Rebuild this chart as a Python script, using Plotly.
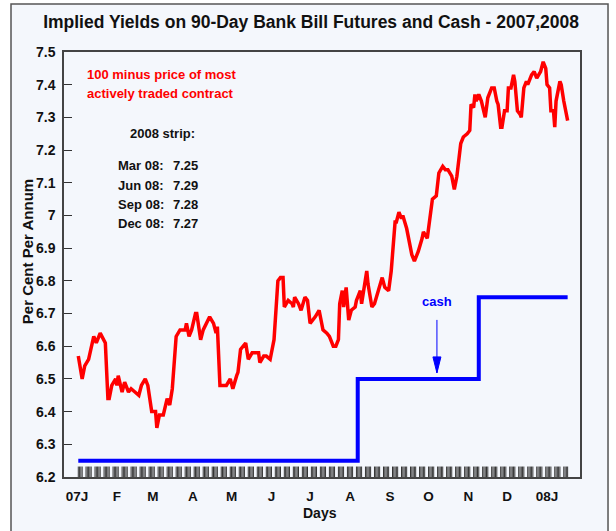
import plotly.graph_objects as go
import pandas as pd

# ---- data (day number counted from 1 Jan 2007 = 0) ----
futures_day = [1, 4, 6, 9, 13, 15, 18, 22, 24, 25, 27, 30, 31, 32, 35, 37, 40, 42, 45, 48,
               50, 53, 55, 58, 61, 62, 64, 67, 70, 72, 74, 77, 80, 84, 85, 87, 89, 92, 93, 96,
               98, 103, 106, 108, 109, 111, 114, 116, 119, 121, 124, 125, 127, 129, 131, 133,
               136, 138, 141, 142, 145, 147, 150, 151, 153, 156, 158, 160, 161, 164, 167, 168,
               169, 172, 174, 177, 179, 181, 185, 188, 191, 194, 196, 199, 201, 203, 204, 206,
               207, 209, 211, 213, 216, 217, 220, 221, 224, 225, 226, 229, 231, 235, 237, 239,
               242, 244, 247, 248, 250, 252, 253, 256, 259, 260, 262, 265, 268, 269, 272, 274,
               276, 279, 281, 284, 286, 288, 291, 293, 295, 298, 300, 303, 305, 306, 308, 309,
               310, 312, 314, 317, 319, 322, 324, 326, 327, 329, 330, 332, 334, 335, 337, 339,
               340, 342, 344, 345, 347, 349, 350, 353, 355, 357, 360, 362, 364, 365, 367, 368,
               370, 371, 372, 375, 376, 378, 381]
futures_yield = [6.57, 6.50, 6.54, 6.56, 6.63, 6.61, 6.64, 6.61, 6.44, 6.44, 6.48, 6.50, 6.48,
                 6.51, 6.46, 6.49, 6.46, 6.47, 6.46, 6.45, 6.48, 6.50, 6.48, 6.40, 6.40, 6.35,
                 6.39, 6.39, 6.44, 6.42, 6.47, 6.63, 6.65, 6.65, 6.67, 6.63, 6.65, 6.70, 6.70,
                 6.62, 6.65, 6.69, 6.67, 6.64, 6.66, 6.48, 6.48, 6.48, 6.50, 6.47, 6.51, 6.52,
                 6.59, 6.60, 6.61, 6.56, 6.58, 6.58, 6.58, 6.55, 6.57, 6.57, 6.56, 6.58, 6.62,
                 6.80, 6.81, 6.81, 6.72, 6.74, 6.73, 6.72, 6.75, 6.73, 6.71, 6.75, 6.74, 6.67,
                 6.69, 6.71, 6.65, 6.64, 6.63, 6.60, 6.60, 6.62, 6.73, 6.77, 6.72, 6.78, 6.68,
                 6.71, 6.72, 6.74, 6.77, 6.73, 6.80, 6.83, 6.79, 6.72, 6.73, 6.79, 6.81, 6.78,
                 6.77, 6.83, 6.98, 6.98, 7.01, 6.99, 7.00, 6.96, 6.90, 6.88, 6.86, 6.89, 6.93,
                 6.95, 6.93, 6.99, 7.05, 7.06, 7.13, 7.15, 7.14, 7.14, 7.12, 7.08, 7.12, 7.22,
                 7.24, 7.25, 7.26, 7.34, 7.33, 7.37, 7.35, 7.37, 7.35, 7.30, 7.36, 7.39, 7.39,
                 7.35, 7.34, 7.27, 7.27, 7.32, 7.32, 7.39, 7.39, 7.43, 7.41, 7.32, 7.31, 7.30,
                 7.39, 7.41, 7.40, 7.43, 7.44, 7.42, 7.44, 7.47, 7.45, 7.40, 7.39, 7.32, 7.32,
                 7.27, 7.35, 7.41, 7.40, 7.35, 7.29]

cash_day = [1, 218, 312, 381]
cash_rate = [6.25, 6.50, 6.75, 6.75]

month_tick_day = [0, 31, 59, 90, 120, 151, 181, 212, 243, 273, 304, 334, 365]
month_tick_text = ["07J", "F", "M", "A", "M", "J", "J", "A", "S", "O", "N", "D", "08J"]

strip_labels = ["Mar 08:", "Jun 08:", "Sep 08:", "Dec 08:"]
strip_values = ["7.25", "7.29", "7.28", "7.27"]

# trading days (for the daily tick strip along the bottom)
start = pd.Timestamp("2007-01-01")
trading = pd.bdate_range("2007-01-02", "2008-01-17")
trading_day = [(d - start).days for d in trading]

FONT = "Liberation Sans, Arial, sans-serif"
BG = "#F4F7FC"

fig = go.Figure()

# daily tick strip
sx, sy = [], []
for d in trading_day:
    sx += [d, d, None]
    sy += [6.2, 6.232, None]
fig.add_trace(go.Scatter(x=sx, y=sy, mode="lines", line=dict(color="#333333", width=1),
                         hoverinfo="skip", showlegend=False))

fig.add_trace(go.Scatter(x=futures_day, y=futures_yield, mode="lines",
                         line=dict(color="#FF0000", width=3.5), showlegend=False,
                         name="Futures"))
fig.add_trace(go.Scatter(x=cash_day, y=cash_rate, mode="lines", line_shape="hv",
                         line=dict(color="#0000FF", width=4), showlegend=False, name="Cash"))

# outer panel
fig.add_shape(type="rect", xref="paper", yref="paper", x0=-0.1027, x1=1.0543,
              y0=-0.15, y1=1.1129, line=dict(color="#555555", width=1.5),
              fillcolor=BG, layer="below")

# cash arrow (pixel-sized, anchored on the 6.5 level)
ARROW_DAY = 279.5
fig.add_shape(type="path", xref="x", yref="y", xsizemode="pixel", ysizemode="pixel",
              xanchor=ARROW_DAY, yanchor=6.5, path="M0,6 L0,59",
              line=dict(color="#0000FF", width=1))
fig.add_shape(type="path", xref="x", yref="y", xsizemode="pixel", ysizemode="pixel",
              xanchor=ARROW_DAY, yanchor=6.5, path="M-4,22 L4,22 L0,6 Z",
              line=dict(color="#0000FF", width=1), fillcolor="#0000FF")

ann = []
ann.append(dict(text="100 minus price of most", x=0.0407, y=0.946, xanchor="left",
                font=dict(color="#FF0000", size=13, weight="bold")))
ann.append(dict(text="actively traded contract", x=0.0407, y=0.903, xanchor="left",
                font=dict(color="#FF0000", size=13, weight="bold")))
ann.append(dict(text="2008 strip:", x=0.124, y=0.8094, xanchor="left",
                font=dict(color="#111111", size=13, weight="bold")))
rows_y = [0.734, 0.687, 0.642, 0.5953]
for lab, val, yy in zip(strip_labels, strip_values, rows_y):
    ann.append(dict(text=lab, x=0.1008, y=yy, xanchor="left",
                    font=dict(color="#111111", size=13, weight="bold")))
    ann.append(dict(text=val, x=0.2074, y=yy, xanchor="left",
                    font=dict(color="#111111", size=13, weight="bold")))
ann.append(dict(text="cash", x=0.7229, y=0.4118, xanchor="center",
                font=dict(color="#0000FF", size=13, weight="bold")))
ann.append(dict(text="Days", x=0.496, y=-0.0847, xanchor="center",
                font=dict(color="#111111", size=14, weight="bold")))
ann.append(dict(text="Per Cent Per Annum", x=-0.0717, y=0.529, xanchor="center",
                textangle=-90, font=dict(color="#111111", size=15, weight="bold")))
for a in ann:
    a.update(xref="paper", yref="paper", showarrow=False, yanchor="middle")

fig.update_layout(
    width=616, height=531,
    margin=dict(l=64, r=36, t=52, b=54),
    paper_bgcolor="white", plot_bgcolor=BG,
    font=dict(family=FONT, color="#111111"),
    title=dict(text="Implied Yields on 90-Day Bank Bill Futures and Cash - 2007,2008",
               x=0.505, xanchor="center", y=0.9586, yanchor="middle",
               font=dict(size=17.5, weight="bold", color="#111111")),
    annotations=ann,
    showlegend=False,
    hovermode=False,
)
fig.update_xaxes(range=[-10.1, 390.6], tickvals=month_tick_day, ticktext=month_tick_text,
                 ticks="", showgrid=False, zeroline=False, showline=True, mirror=True,
                 linecolor="#444444", linewidth=1.5, ticklabelstandoff=6,
                 tickfont=dict(size=13.5, weight="bold", color="#111111"))
fig.update_yaxes(range=[6.2, 7.5], dtick=0.1, tick0=6.2, ticks="inside", ticklen=8,
                 tickcolor="#333333", showgrid=False, zeroline=False, showline=True,
                 mirror=True, linecolor="#444444", linewidth=1.5, ticklabelstandoff=4,
                 tickfont=dict(size=14, weight="bold", color="#111111"))

fig.write_html("out.html", config={"displayModeBar": False},
               post_script="document.body.style.margin='0';"
                           "document.body.style.padding='0';"
                           "document.body.style.overflow='hidden';")
